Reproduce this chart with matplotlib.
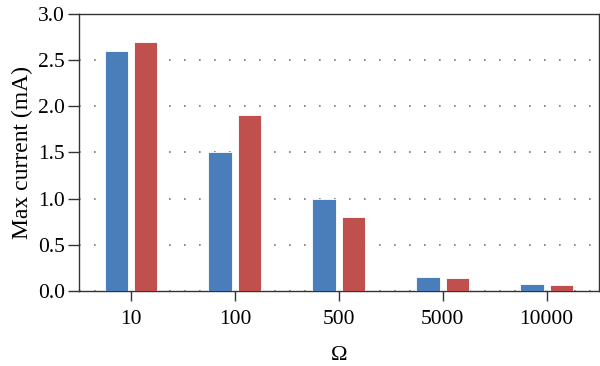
import numpy as np
import matplotlib
matplotlib.use("Agg")
import matplotlib.pyplot as plt

# data
categories = ["10", "100", "500", "5000", "10000"]
blue_vals = [2.6, 1.5, 1.0, 0.15, 0.08]
red_vals = [2.7, 1.9, 0.8, 0.14, 0.07]
yticks = [0.0, 0.5, 1.0, 1.5, 2.0, 2.5, 3.0]

plt.rcParams['font.family'] = ['Liberation Serif', 'DejaVu Serif']

fig = plt.figure(figsize=(6, 3.66), dpi=100)
ax = fig.add_axes([0.1317, 0.205, 0.866, 0.757])

x = np.arange(len(categories))
w = 0.225
ax.bar(x - 0.142, blue_vals, w, color="#4a7ebb", edgecolor="white", linewidth=0.6, zorder=3)
ax.bar(x + 0.142, red_vals, w, color="#c0504d", edgecolor="white", linewidth=0.6, zorder=3)

ax.set_xlim(-0.5, 4.5)
ax.set_ylim(0, 3.0)
ax.set_yticks(yticks)
ax.set_yticklabels(["%.1f" % v for v in yticks])
ax.set_xticks(x)
ax.set_xticklabels(categories)

ax.yaxis.grid(True, linestyle=(0, (1, 8)), color="#777777", linewidth=1.2, zorder=0)
ax.set_axisbelow(True)

for s in ax.spines.values():
    s.set_color("#333333")
    s.set_linewidth(1.0)

ax.tick_params(axis="y", direction="out", length=8, width=1, color="#333333",
               labelsize=15.5, pad=2)
ax.tick_params(axis="x", direction="out", length=7, width=1, color="#333333",
               labelsize=15.5, pad=7)

ax.set_ylabel("Max current (mA)", fontsize=17, labelpad=4)
ax.set_xlabel("Ω", fontsize=16, labelpad=12)

fig.savefig("out.png", dpi=100)
